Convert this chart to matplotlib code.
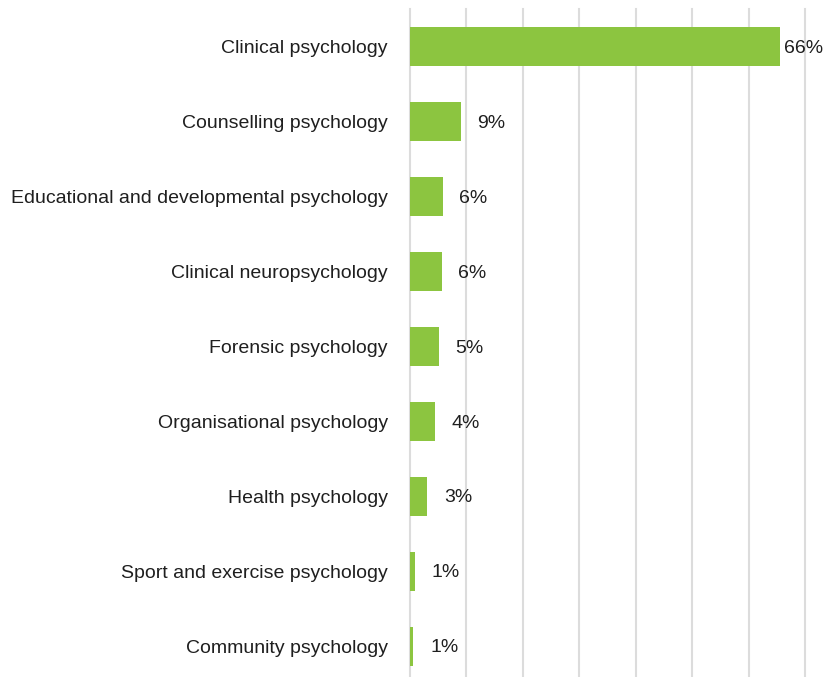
import matplotlib.pyplot as plt

# Share of respondents by area of practice (%)
areas = [
    "Clinical psychology",
    "Counselling psychology",
    "Educational and developmental psychology",
    "Clinical neuropsychology",
    "Forensic psychology",
    "Organisational psychology",
    "Health psychology",
    "Sport and exercise psychology",
    "Community psychology",
]
shares = [65.5, 9.0, 5.8, 5.6, 5.1, 4.4, 3.1, 0.8, 0.6]

plt.rcParams['font.family'] = ['Liberation Sans Narrow', 'Liberation Sans', 'DejaVu Sans']

fig = plt.figure(figsize=(8.27, 6.77), dpi=100)
ax = fig.add_axes([410 / 827, 0, (805 - 410) / 827, 668 / 677])

pos = list(range(len(areas)))
bars = ax.barh(pos, shares, height=0.52, color='#8cc540', zorder=3)

ax.set_xlim(0, 70)
ax.set_ylim(8.41, -0.5)
ax.set_xticks(range(0, 71, 10))
ax.xaxis.grid(True, color='#dcdcdc', linewidth=1.5, zorder=0)
for gl in ax.get_xgridlines():
    gl.set_clip_on(False)
ax.tick_params(axis='x', length=0, labelbottom=False)
ax.tick_params(axis='y', length=0, pad=16, labelsize=14, labelcolor='#1f1f1f')
ax.set_yticks(pos)
ax.set_yticklabels(areas)
for s in ax.spines.values():
    s.set_visible(False)

# value labels just past the bar ends
for b, v in zip(bars, shares):
    pad = 3 if v == max(shares) else 12
    ax.annotate(f"{v:.0f}%", (b.get_width(), b.get_y() + b.get_height() / 2),
                xytext=(pad, -1.2), textcoords='offset points',
                va='center', ha='left', fontsize=14, color='#1f1f1f',
                annotation_clip=False)

fig.savefig('out.png', dpi=100)
